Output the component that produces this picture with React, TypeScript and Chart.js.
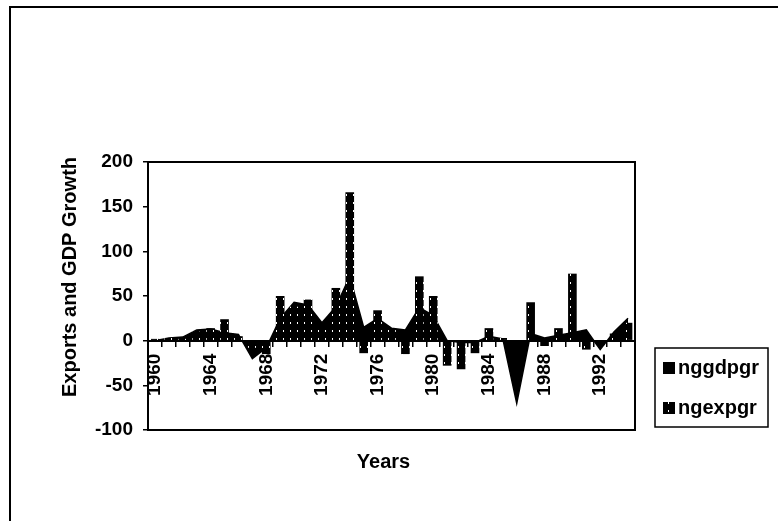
import React, { useEffect, useRef } from 'react';
import { Chart, registerables } from 'chart.js';

Chart.register(...registerables);

const years = [
  '1960', '1961', '1962', '1963', '1964', '1965', '1966', '1967', '1968', '1969',
  '1970', '1971', '1972', '1973', '1974', '1975', '1976', '1977', '1978', '1979',
  '1980', '1981', '1982', '1983', '1984', '1985', '1986', '1987', '1988', '1989',
  '1990', '1991', '1992', '1993', '1994',
];

// GDP growth (area)
const nggdpgr = [
  0, 3, 4, 12, 13, 9, 7, -20, -8, 25,
  43, 40, 20, 38, 72, 15, 25, 14, 12, 37,
  28, 0, -2, -2, 5, 2, -70, 8, 3, 6,
  9, 12, -10, 10, 25,
];

// Export growth (columns)
const ngexpgr = [
  2, 3, 2, 10, 14, 24, 5, -8, -15, 50,
  38, 46, 18, 59, 166, -14, 34, 12, -15, 72,
  50, -28, -32, -14, 14, 3, -5, 43, -6, 14,
  75, -10, -5, 8, 20,
];

const xTickLabels = ['1960', '1964', '1968', '1972', '1976', '1980', '1984', '1988', '1992'];
const yTickValues = [-100, -50, 0, 50, 100, 150, 200];

const FONT = "'Liberation Sans', Arial, sans-serif";

export default function App() {
  const canvasRef = useRef<HTMLCanvasElement | null>(null);

  useEffect(() => {
    const canvas = canvasRef.current;
    if (!canvas) return;
    const ctx0 = canvas.getContext('2d')!;

    const tile = document.createElement('canvas');
    tile.width = 7;
    tile.height = 8;
    const tg = tile.getContext('2d')!;
    tg.fillStyle = '#000';
    tg.fillRect(0, 0, 7, 8);
    tg.fillStyle = '#fff';
    tg.fillRect(3, 2, 1, 2);
    const pattern = ctx0.createPattern(tile, 'repeat') as CanvasPattern;

    const decor = {
      id: 'decor',
      beforeDraw(chart: any) {
        const ctx = chart.ctx;
        ctx.save();
        ctx.fillStyle = '#fff';
        ctx.fillRect(0, 0, chart.width, chart.height);
        ctx.strokeStyle = '#000';
        ctx.lineWidth = 2;
        ctx.beginPath();
        ctx.moveTo(10, chart.height);
        ctx.lineTo(10, 7);
        ctx.lineTo(chart.width, 7);
        ctx.stroke();
        ctx.restore();
      },
      afterDraw(chart: any) {
        const ctx = chart.ctx;
        const a = chart.chartArea;
        ctx.save();
        ctx.strokeStyle = '#000';
        ctx.lineWidth = 2;
        ctx.strokeRect(a.left, a.top, a.right - a.left, a.bottom - a.top);

        ctx.fillStyle = '#000';
        ctx.font = `bold 20px ${FONT}`;
        ctx.textAlign = 'center';
        ctx.textBaseline = 'middle';
        // y title
        ctx.save();
        ctx.translate(a.left - 78, a.top + 115);
        ctx.rotate(-Math.PI / 2);
        ctx.fillText('Exports and GDP Growth', 0, 0);
        ctx.restore();
        // x title
        ctx.fillText('Years', (a.left + a.right) / 2 - 8, a.bottom + 32);

        // legend
        const lx = a.right + 20;
        const ly = a.top + 186;
        ctx.lineWidth = 1.5;
        ctx.strokeRect(lx, ly, 113, 79);
        const ds = chart.data.datasets;
        ds.forEach((d: any, i: number) => {
          const cy = ly + 20 + i * 40;
          ctx.fillStyle = d.backgroundColor;
          ctx.fillRect(lx + 8, cy - 6, 12, 12);
          ctx.fillStyle = '#000';
          ctx.textAlign = 'left';
          ctx.font = `bold 20px ${FONT}`;
          ctx.fillText(d.label, lx + 23, cy);
        });
        ctx.restore();
      },
    };

    const chart = new Chart(canvas, {
      type: 'bar',
      data: {
        labels: years,
        datasets: [
          {
            type: 'line',
            label: 'nggdpgr',
            data: nggdpgr,
            borderColor: '#000',
            backgroundColor: '#000',
            borderWidth: 1.5,
            pointRadius: 0,
            tension: 0,
            fill: 'origin',
            order: 1,
          } as any,
          {
            type: 'bar',
            label: 'ngexpgr',
            data: ngexpgr,
            backgroundColor: pattern,
            borderColor: '#000',
            borderWidth: 0,
            categoryPercentage: 1,
            barPercentage: 0.62,
            order: 0,
          } as any,
        ],
      },
      options: {
        animation: false,
        responsive: false,
        events: [],
        layout: { padding: { left: 0, top: 162, right: 143, bottom: 91 } },
        plugins: {
          legend: { display: false },
          tooltip: { enabled: false },
          title: { display: false },
        },
        scales: {
          x: {
            type: 'category',
            position: { y: 0 } as any,
            offset: true,
            afterFit: (s: any) => {
              s.height = 0;
            },
            grid: {
              display: true,
              drawOnChartArea: false,
              drawTicks: true,
              tickLength: 5,
              offset: true,
              color: '#000',
              lineWidth: 1.5,
            },
            border: { display: true, color: '#000', width: 2 },
            ticks: {
              autoSkip: false,
              minRotation: 90,
              maxRotation: 90,
              padding: 8,
              color: '#000',
              font: { family: FONT, size: 19, weight: 'bold' },
              callback: function (this: any, _v: any, i: number) {
                const lab = years[i];
                return xTickLabels.includes(lab) ? lab : '';
              },
            },
          },
          y: {
            type: 'linear',
            position: 'left',
            min: -100,
            max: 200,
            afterFit: (s: any) => {
              s.width = 148;
            },
            afterBuildTicks: (s: any) => {
              s.ticks = yTickValues.map((v) => ({ value: v }));
            },
            grid: {
              display: true,
              drawOnChartArea: false,
              drawTicks: true,
              tickLength: 5,
              color: '#000',
              lineWidth: 1.5,
            },
            border: { display: true, color: '#000', width: 2 },
            ticks: {
              padding: 10,
              color: '#000',
              font: { family: FONT, size: 19, weight: 'bold' },
            },
          },
        },
      },
      plugins: [decor],
    });

    return () => chart.destroy();
  }, []);

  return (
    <div style={{ position: 'fixed', left: 0, top: 0, width: 778, height: 521, background: '#fff' }}>
      <canvas ref={canvasRef} width={778} height={521} style={{ display: 'block' }} />
    </div>
  );
}
